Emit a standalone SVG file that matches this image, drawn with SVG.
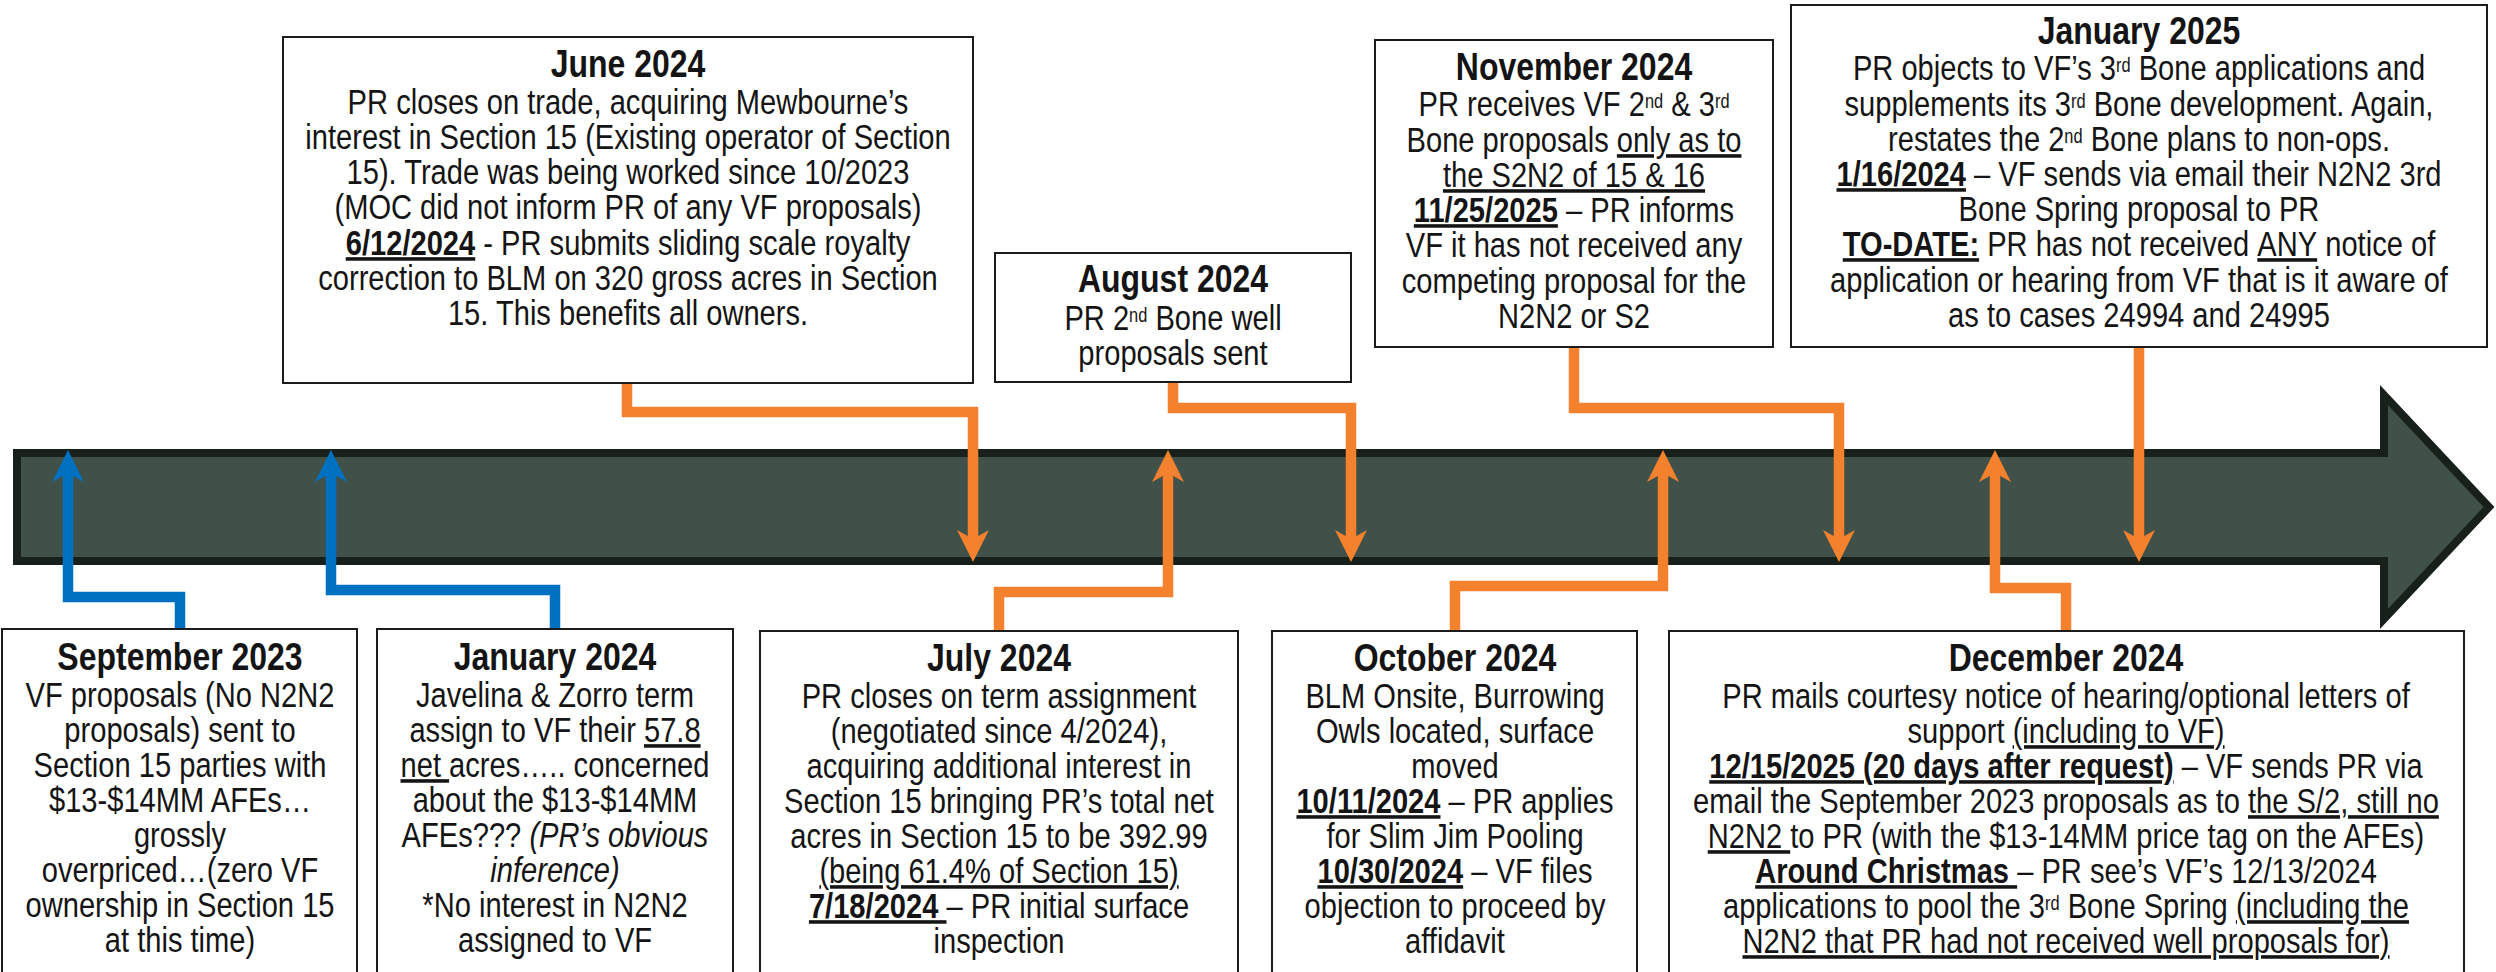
<svg xmlns="http://www.w3.org/2000/svg" width="2496" height="972" viewBox="0 0 2496 972">
<style>
.box{fill:#fff;stroke:#1b1b1b;stroke-width:2}
.t{font-family:"Liberation Sans",Arial,sans-serif;font-size:35.5px;fill:#141414;text-anchor:middle}
.h{font-weight:bold;font-size:39px}
.b{font-weight:bold}
.u{text-decoration:underline}
.i{font-style:italic}
.sup{font-size:20px}
.conn{fill:none;stroke-width:10.5;stroke-linejoin:miter;stroke-linecap:butt}
.blue{stroke:#0070C0}
.orange{stroke:#F4812E}
</style>
<defs>
<marker id="ab" markerUnits="userSpaceOnUse" viewBox="0 -17 34 34" markerWidth="34" markerHeight="34" refX="9" refY="0" orient="auto" overflow="visible">
<path d="M0,-16 L32,0 L0,16 L9,0 Z" fill="#0070C0"/>
</marker>
<marker id="ao" markerUnits="userSpaceOnUse" viewBox="0 -17 34 34" markerWidth="34" markerHeight="34" refX="9" refY="0" orient="auto" overflow="visible">
<path d="M0,-16 L32,0 L0,16 L9,0 Z" fill="#F4812E"/>
</marker>
</defs>
<rect width="2496" height="972" fill="#fff"/>
<g id="timeline">
<path d="M17,453 H2384 V395 L2489,507 L2384,619 V561 H17 Z" fill="#40514A" stroke="#18201B" stroke-width="8" stroke-linejoin="miter"/>
</g>
<g id="connectors">
<path class="conn blue" d="M180,629 V597 H68 V473" marker-end="url(#ab)"/>
<path class="conn blue" d="M555,629 V590 H331 V473" marker-end="url(#ab)"/>
<path class="conn orange" d="M627,383 V412 H973 V539" marker-end="url(#ao)"/>
<path class="conn orange" d="M999,631 V592 H1168 V473" marker-end="url(#ao)"/>
<path class="conn orange" d="M1173,382 V408 H1351 V539" marker-end="url(#ao)"/>
<path class="conn orange" d="M1455,631 V586 H1663 V473" marker-end="url(#ao)"/>
<path class="conn orange" d="M1574,347 V408 H1839 V539" marker-end="url(#ao)"/>
<path class="conn orange" d="M2066,631 V588 H1995 V473" marker-end="url(#ao)"/>
<path class="conn orange" d="M2139,347 V539" marker-end="url(#ao)"/>
</g>
<g id="june-2024">
<rect class="box" x="283" y="37" width="690" height="346"/>
<g transform="translate(628,0) scale(0.82,1)">
<text class="t h" x="0" y="77">June 2024</text>
<text class="t" x="0" y="114">PR closes on trade, acquiring Mewbourne’s</text>
<text class="t" x="0" y="149">interest in Section 15 (Existing operator of Section</text>
<text class="t" x="0" y="184">15). Trade was being worked since 10/2023</text>
<text class="t" x="0" y="219">(MOC did not inform PR of any VF proposals)</text>
<text class="t" x="0" y="255"><tspan class="b u">6/12/2024</tspan> - PR submits sliding scale royalty</text>
<text class="t" x="0" y="290">correction to BLM on 320 gross acres in Section</text>
<text class="t" x="0" y="325">15. This benefits all owners.</text>
</g>
</g>
<g id="august-2024">
<rect class="box" x="995" y="253" width="356" height="129"/>
<g transform="translate(1173,0) scale(0.82,1)">
<text class="t h" x="0" y="292">August 2024</text>
<text class="t" x="0" y="330">PR 2<tspan class="sup" dy="-8">nd</tspan><tspan dy="8"> Bone well</tspan></text>
<text class="t" x="0" y="365">proposals sent</text>
</g>
</g>
<g id="november-2024">
<rect class="box" x="1375" y="40" width="398" height="307"/>
<g transform="translate(1574,0) scale(0.82,1)">
<text class="t h" x="0" y="80">November 2024</text>
<text class="t" x="0" y="116">PR receives VF 2<tspan class="sup" dy="-8">nd</tspan><tspan dy="8"> &amp; 3</tspan><tspan class="sup" dy="-8">rd</tspan></text>
<text class="t" x="0" y="152">Bone proposals <tspan class="u">only as to</tspan></text>
<text class="t" x="0" y="187"><tspan class="u">the S2N2 of 15 &amp; 16</tspan></text>
<text class="t" x="0" y="222"><tspan class="b u">11/25/2025</tspan> – PR informs</text>
<text class="t" x="0" y="257">VF it has not received any</text>
<text class="t" x="0" y="293">competing proposal for the</text>
<text class="t" x="0" y="328">N2N2 or S2</text>
</g>
</g>
<g id="january-2025">
<rect class="box" x="1791" y="5" width="696" height="342"/>
<g transform="translate(2139,0) scale(0.82,1)">
<text class="t h" x="0" y="44">January 2025</text>
<text class="t" x="0" y="80">PR objects to VF’s 3<tspan class="sup" dy="-8">rd</tspan><tspan dy="8"> Bone applications and</tspan></text>
<text class="t" x="0" y="116">supplements its 3<tspan class="sup" dy="-8">rd</tspan><tspan dy="8"> Bone development. Again,</tspan></text>
<text class="t" x="0" y="151">restates the 2<tspan class="sup" dy="-8">nd</tspan><tspan dy="8"> Bone plans to non-ops.</tspan></text>
<text class="t" x="0" y="186"><tspan class="b u">1/16/2024</tspan> – VF sends via email their N2N2 3rd</text>
<text class="t" x="0" y="221">Bone Spring proposal to PR</text>
<text class="t" x="0" y="256"><tspan class="b u">TO-DATE:</tspan> PR has not received <tspan class="u">ANY</tspan> notice of</text>
<text class="t" x="0" y="292">application or hearing from VF that is it aware of</text>
<text class="t" x="0" y="327">as to cases 24994 and 24995</text>
</g>
</g>
<g id="september-2023">
<rect class="box" x="2" y="629" width="355" height="360"/>
<g transform="translate(180,0) scale(0.82,1)">
<text class="t h" x="0" y="670">September 2023</text>
<text class="t" x="0" y="707">VF proposals (No N2N2</text>
<text class="t" x="0" y="742">proposals) sent to</text>
<text class="t" x="0" y="777">Section 15 parties with</text>
<text class="t" x="0" y="812">$13-$14MM AFEs…</text>
<text class="t" x="0" y="847">grossly</text>
<text class="t" x="0" y="882">overpriced…(zero VF</text>
<text class="t" x="0" y="917">ownership in Section 15</text>
<text class="t" x="0" y="952">at this time)</text>
</g>
</g>
<g id="january-2024">
<rect class="box" x="377" y="629" width="356" height="360"/>
<g transform="translate(555,0) scale(0.82,1)">
<text class="t h" x="0" y="670">January 2024</text>
<text class="t" x="0" y="707">Javelina &amp; Zorro term</text>
<text class="t" x="0" y="742">assign to VF their <tspan class="u">57.8</tspan></text>
<text class="t" x="0" y="777"><tspan class="u">net </tspan>acres….. concerned</text>
<text class="t" x="0" y="812">about the $13-$14MM</text>
<text class="t" x="0" y="847">AFEs??? <tspan class="i">(PR’s obvious</tspan></text>
<text class="t i" x="0" y="882">inference)</text>
<text class="t" x="0" y="917">*No interest in N2N2</text>
<text class="t" x="0" y="952">assigned to VF</text>
</g>
</g>
<g id="july-2024">
<rect class="box" x="760" y="631" width="478" height="360"/>
<g transform="translate(999,0) scale(0.82,1)">
<text class="t h" x="0" y="671">July 2024</text>
<text class="t" x="0" y="708">PR closes on term assignment</text>
<text class="t" x="0" y="743">(negotiated since 4/2024),</text>
<text class="t" x="0" y="778">acquiring additional interest in</text>
<text class="t" x="0" y="813">Section 15 bringing PR’s total net</text>
<text class="t" x="0" y="848">acres in Section 15 to be 392.99</text>
<text class="t" x="0" y="883"><tspan class="u">(being 61.4% of Section 15)</tspan></text>
<text class="t" x="0" y="918"><tspan class="b u">7/18/2024 </tspan>– PR initial surface</text>
<text class="t" x="0" y="953">inspection</text>
</g>
</g>
<g id="october-2024">
<rect class="box" x="1272" y="631" width="365" height="360"/>
<g transform="translate(1455,0) scale(0.82,1)">
<text class="t h" x="0" y="671">October 2024</text>
<text class="t" x="0" y="708">BLM Onsite, Burrowing</text>
<text class="t" x="0" y="743">Owls located, surface</text>
<text class="t" x="0" y="778">moved</text>
<text class="t" x="0" y="813"><tspan class="b u">10/11/2024</tspan> – PR applies</text>
<text class="t" x="0" y="848">for Slim Jim Pooling</text>
<text class="t" x="0" y="883"><tspan class="b u">10/30/2024</tspan> – VF files</text>
<text class="t" x="0" y="918">objection to proceed by</text>
<text class="t" x="0" y="953">affidavit</text>
</g>
</g>
<g id="december-2024">
<rect class="box" x="1669" y="631" width="795" height="360"/>
<g transform="translate(2066,0) scale(0.82,1)">
<text class="t h" x="0" y="671">December 2024</text>
<text class="t" x="0" y="708">PR mails courtesy notice of hearing/optional letters of</text>
<text class="t" x="0" y="743">support <tspan class="u">(including to VF)</tspan></text>
<text class="t" x="0" y="778"><tspan class="b u">12/15/2025 (20 days after request)</tspan> – VF sends PR via</text>
<text class="t" x="0" y="813">email the September 2023 proposals as to <tspan class="u">the S/2, still no</tspan></text>
<text class="t" x="0" y="848"><tspan class="u">N2N2 </tspan>to PR (with the $13-14MM price tag on the AFEs)</text>
<text class="t" x="0" y="883"><tspan class="b u">Around Christmas </tspan>– PR see’s VF’s 12/13/2024</text>
<text class="t" x="0" y="918">applications to pool the 3<tspan class="sup" dy="-8">rd</tspan><tspan dy="8"> Bone Spring </tspan><tspan class="u">(including the</tspan></text>
<text class="t" x="0" y="953"><tspan class="u">N2N2 that PR had not received well proposals for)</tspan></text>
</g>
</g>
</svg>
